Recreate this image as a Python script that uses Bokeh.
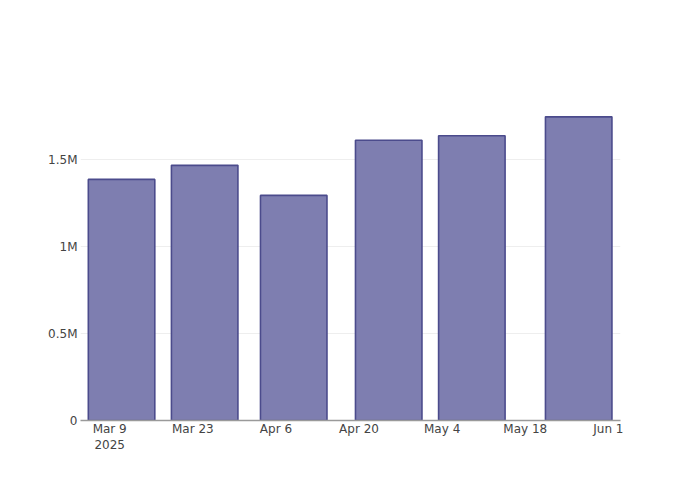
from datetime import datetime
from bokeh.plotting import figure
from bokeh.models import Range1d, FixedTicker, ColumnDataSource
from bokeh.embed import file_html
from bokeh.resources import INLINE

# ---- data ----
bar_dates = [datetime(2025, 3, 11), datetime(2025, 3, 25), datetime(2025, 4, 9),
             datetime(2025, 4, 25), datetime(2025, 5, 9), datetime(2025, 5, 27)]
bar_values = [1387000, 1468000, 1295000, 1612000, 1638000, 1747000]

x_tick_dates = [datetime(2025, 3, 9), datetime(2025, 3, 23), datetime(2025, 4, 6),
                datetime(2025, 4, 20), datetime(2025, 5, 4), datetime(2025, 5, 18),
                datetime(2025, 6, 1)]
x_tick_labels = ["Mar 9\n2025", "Mar 23", "Apr 6", "Apr 20", "May 4", "May 18", "Jun 1"]

y_ticks = [0, 500000, 1000000, 1500000]
y_tick_labels = ["0", "0.5M", "1M", "1.5M"]

EPOCH = datetime(1970, 1, 1)
DAY_MS = 86400000.0
FONT = "DejaVu Sans"


def ms(d):
    return (d - EPOCH).total_seconds() * 1000.0


src = ColumnDataSource(dict(x=[ms(d) for d in bar_dates], top=bar_values))

p = figure(width=684, height=484, x_axis_type="datetime", output_backend="svg",
           toolbar_location=None,
           x_range=Range1d(ms(datetime(2025, 3, 4, 2)), ms(datetime(2025, 6, 3, 1))),
           y_range=Range1d(0, 1841000),
           min_border_left=80, min_border_right=64, min_border_top=100, min_border_bottom=64)

p.vbar(x="x", top="top", bottom=0, width=11.2 * DAY_MS, source=src,
       fill_color="#7e7eb0", line_color="#4b4b8c", line_width=1.6)

p.outline_line_color = None
p.background_fill_color = "white"
p.border_fill_color = "white"
p.xgrid.grid_line_color = None
p.ygrid.grid_line_color = "#eeeeee"
p.ygrid.grid_line_width = 1

xa = p.xaxis[0]
xa.ticker = FixedTicker(ticks=[ms(d) for d in x_tick_dates])
xa.major_label_overrides = {ms(d): lab for d, lab in zip(x_tick_dates, x_tick_labels)}
xa.axis_line_color = "#9a9a9a"
xa.axis_line_width = 1.5
xa.major_tick_line_color = None
xa.major_tick_out = 0
xa.major_tick_in = 0
xa.minor_tick_line_color = None
xa.minor_tick_out = 0
xa.major_label_standoff = 1
xa.major_label_text_font = FONT
xa.major_label_text_font_size = "12px"
xa.major_label_text_color = "#444444"

ya = p.yaxis[0]
ya.ticker = FixedTicker(ticks=y_ticks)
ya.major_label_overrides = {t: lab for t, lab in zip(y_ticks, y_tick_labels)}
ya.axis_line_color = None
ya.major_tick_line_color = None
ya.major_tick_out = 0
ya.major_tick_in = 0
ya.minor_tick_line_color = None
ya.minor_tick_out = 0
ya.major_label_standoff = 3
ya.major_label_text_font = FONT
ya.major_label_text_font_size = "12px"
ya.major_label_text_color = "#444444"

open("out.html", "w").write(file_html(p, INLINE))
